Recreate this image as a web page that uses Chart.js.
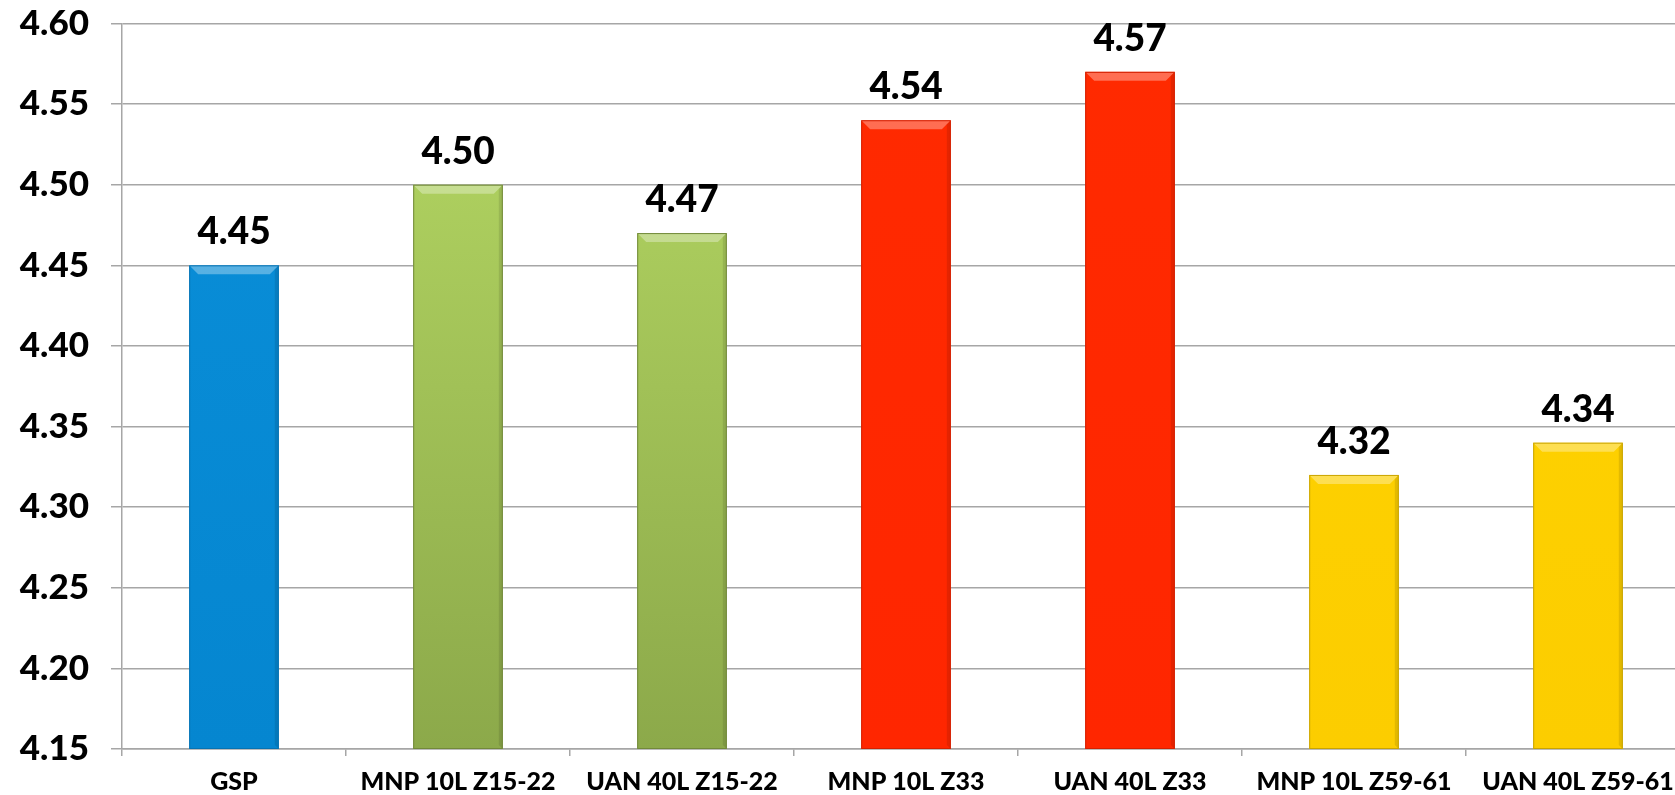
<!DOCTYPE html>
<html>
<head>
<meta charset="utf-8">
<script src="https://cdn.jsdelivr.net/npm/chart.js@4"></script>
<style>
  html, body { margin: 0; padding: 0; background: #fff; overflow: hidden; }
  #wrap { width: 1690px; height: 795px; position: relative; }
</style>
</head>
<body>
<div id="wrap"><canvas id="barChart"></canvas></div>
<script>
// data
let categories = ['GSP', 'MNP 10L Z15-22', 'UAN 40L Z15-22', 'MNP 10L Z33', 'UAN 40L Z33', 'MNP 10L Z59-61', 'UAN 40L Z59-61'];
let values = [4.45, 4.50, 4.47, 4.54, 4.57, 4.32, 4.34];
let yTicks = [4.15, 4.20, 4.25, 4.30, 4.35, 4.40, 4.45, 4.50, 4.55, 4.60];

// top / bottom colour of each bar
let topColors = ['#0a8fd9', '#b6d964', '#b6d964', '#ff2a00', '#ff2a00', '#ffd400', '#ffd400'];
let bottomColors = ['#0586d0', '#8ca94a', '#8ca94a', '#ff2600', '#ff2600', '#fccd00', '#fccd00'];
let edgeColors = ['#0673b3', '#72893a', '#72893a', '#d42000', '#d42000', '#c9a400', '#c9a400'];

let fontName = 'Lato, "Open Sans", sans-serif';
let gridGray = '#a6a6a6';

function barFill(context) {
  let chart = context.chart;
  let area = chart.chartArea;
  if (!area) return topColors[context.dataIndex];
  let g = chart.ctx.createLinearGradient(0, area.top, 0, area.bottom);
  g.addColorStop(0, topColors[context.dataIndex]);
  g.addColorStop(1, bottomColors[context.dataIndex]);
  return g;
}

// light bevel on top edge + darker right edge, drawn on the bar elements
let bevelPlugin = {
  id: 'bevel',
  afterDatasetsDraw(chart) {
    let ctx = chart.ctx;
    let meta = chart.getDatasetMeta(0);
    let floor = chart.chartArea.bottom;
    meta.data.forEach((bar, i) => {
      let left = bar.x - bar.width / 2;
      let right = bar.x + bar.width / 2;
      let top = bar.y;
      let bottom = Math.min(bar.base, floor);
      let b = 9;
      ctx.save();
      ctx.fillStyle = 'rgba(255,255,255,0.32)';
      ctx.beginPath();
      ctx.moveTo(left, top);
      ctx.lineTo(right, top);
      ctx.lineTo(right - b, top + b);
      ctx.lineTo(left + b, top + b);
      ctx.closePath();
      ctx.fill();
      ctx.fillStyle = 'rgba(0,0,0,0.10)';
      ctx.beginPath();
      ctx.moveTo(right, top);
      ctx.lineTo(right, bottom);
      ctx.lineTo(right - 4, bottom - 4);
      ctx.lineTo(right - 4, top + 4);
      ctx.closePath();
      ctx.fill();
      ctx.strokeStyle = edgeColors[i];
      ctx.lineWidth = 1;
      ctx.strokeRect(left + 0.5, top + 0.5, bar.width - 1, bottom - top - 1);
      ctx.restore();
    });
  }
};

// value labels above the bars
let valueLabels = {
  id: 'valueLabels',
  afterDatasetsDraw(chart) {
    let ctx = chart.ctx;
    let meta = chart.getDatasetMeta(0);
    ctx.save();
    ctx.font = '900 37px ' + fontName;
    ctx.fillStyle = '#000';
    ctx.textAlign = 'center';
    ctx.textBaseline = 'alphabetic';
    meta.data.forEach((bar, i) => {
      ctx.fillText(values[i].toFixed(2), bar.x, bar.y - 21);
    });
    ctx.restore();
  }
};

let ctx = document.getElementById('barChart').getContext('2d');
let myChart = new Chart(ctx, {
  type: 'bar',
  data: {
    labels: categories,
    datasets: [{
      data: values,
      backgroundColor: barFill,
      borderWidth: 0,
      barPercentage: 0.4,
      categoryPercentage: 1
    }]
  },
  options: {
    responsive: true,
    maintainAspectRatio: false,
    animation: false,
    layout: { padding: { top: 23.5, left: 0, right: 0, bottom: 0 } },
    plugins: {
      legend: { display: false },
      tooltip: { enabled: false }
    },
    scales: {
      x: {
        grid: {
          offset: true,
          drawOnChartArea: false,
          drawTicks: true,
          tickLength: 7,
          color: gridGray,
          lineWidth: 1.5
        },
        border: { color: gridGray, width: 1.5 },
        ticks: {
          color: '#000',
          padding: 11,
          maxRotation: 0,
          autoSkip: false,
          font: { family: fontName, weight: '900', size: 25 }
        },
        afterFit(axis) {
          axis.height = 46;
          axis.paddingLeft = 0;
          axis.paddingRight = 0;
        }
      },
      y: {
        min: 4.15,
        max: 4.60,
        afterBuildTicks(axis) {
          axis.ticks = yTicks.map(v => ({ value: v }));
        },
        grid: {
          color: gridGray,
          lineWidth: 1.5,
          tickLength: 11
        },
        border: { color: gridGray, width: 1.5 },
        ticks: {
          color: '#000',
          padding: 22,
          font: { family: fontName, weight: '900', size: 35 },
          callback: v => Number(v).toFixed(2)
        },
        afterFit(axis) {
          axis.width = 122;
          axis.paddingTop = 0;
          axis.paddingBottom = 0;
        }
      }
    }
  },
  plugins: [bevelPlugin, valueLabels]
});
</script>
</body>
</html>
